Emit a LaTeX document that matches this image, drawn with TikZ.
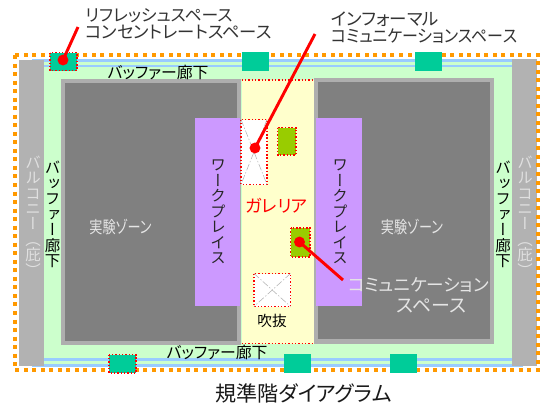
\documentclass[tikz,border=0pt]{standalone}
\usepackage{fontspec}
\setmainfont{Noto Sans CJK JP}[RawFeature=+palt]
\newfontfamily\vfont{Noto Sans CJK JP}[RawFeature=+vert]
\definecolor{orangeb}{HTML}{FF9900}
\definecolor{balc}{HTML}{B2B2B2}
\definecolor{buffer}{HTML}{CCFFCC}
\definecolor{glass}{HTML}{99CCFF}
\definecolor{frameg}{HTML}{AEAEAE}
\definecolor{zone}{HTML}{808080}
\definecolor{yell}{HTML}{FFFFCC}
\definecolor{purp}{HTML}{CC99FF}
\definecolor{teal}{HTML}{00CC99}
\definecolor{lime}{HTML}{99CC00}
\tikzset{
 x=0.75pt,y=-0.75pt,
 fs/.style={font=\fontsize{#1}{#1}\selectfont,inner sep=0pt},
 lab/.style={fs=#1,text=black!80,align=left,anchor=west},
 wlab/.style={fs=#1,text=white!90!black,align=center},
 vlab/.style={font=\vfont\fontsize{11.6}{11.6}\selectfont,inner sep=0pt,align=center},
 hlab/.style={fs=11.9,text=black},
 redbox/.style={draw=red,line width=1.2pt,dash pattern=on 1.1pt off 1.4pt},
 leader/.style={draw=red,line width=2.2pt},
 dot/.style={circle,fill=red,inner sep=0pt,minimum size=8.2pt},
 xline/.style={draw=gray!60,line width=0.4pt,dash pattern=on 5pt off 1.5pt on 1pt off 1.5pt},
}
\begin{document}
\begin{tikzpicture}
\useasboundingbox (0,0) rectangle (540,405);
\fill[white] (0,0) rectangle (540,405);
% buffer and balconies
\fill[buffer] (44,60) rectangle (512,366);
\fill[white] (32,59) rectangle (512,67);
\fill[glass] (32,59) rectangle (512,62);
\fill[glass] (32,64.5) rectangle (512,67);
\fill[buffer] (44,62) rectangle (512,64.5);
\fill[white] (32,358) rectangle (523,367);
\fill[buffer] (44,361) rectangle (512,364);
\fill[glass] (32,358) rectangle (523,361);
\fill[glass] (32,364) rectangle (523,367);
\fill[balc] (19,60) rectangle (44,366);
\fill[balc] (512,59) rectangle (537,366);
% zones
\fill[frameg] (61,78.5) rectangle (241,345);
\fill[zone] (65,82.5) rectangle (237,341);
\fill[frameg] (314,77.5) rectangle (494,344);
\fill[zone] (318,82) rectangle (490,339);
% gallery
\fill[yell] (241.5,80) rectangle (313.5,344);
\draw[redbox] (241.5,80) -- (313.5,80);
\draw[redbox] (241.5,343.5) -- (313.5,343.5);
% workplaces
\fill[purp] (195,118) rectangle (240,306);
\fill[purp] (316,118) rectangle (362,306);
% voids
\filldraw[fill=white,redbox] (241,119.5) rectangle (267,184.5);
\draw[xline] (241,119.5) -- (267,184.5);
\draw[xline] (267,119.5) -- (241,184.5);
\filldraw[fill=white,redbox] (254,273.5) rectangle (290.5,306.5);
\draw[xline] (254,273.5) -- (290.5,306.5);
\draw[xline] (290.5,273.5) -- (254,306.5);
% comm. spaces
\filldraw[fill=lime,redbox] (277.5,127.5) rectangle (296,155);
\filldraw[fill=lime,redbox] (290.5,228) rectangle (310,257);
% orange border
\draw[orangeb,line width=3pt,dash pattern=on 3pt off 3.4pt] (14.5,55) rectangle (538,370);
% teal
\fill[teal] (242,52) rectangle (269,71);
\fill[teal] (415,52) rectangle (442,71);
\fill[teal] (284,354) rectangle (311,373);
\fill[teal] (390,354) rectangle (417,373);
\filldraw[fill=teal,redbox] (50,52.5) rectangle (77,70.5);
\filldraw[fill=teal,redbox] (109,354.5) rectangle (136,373);
% leaders
\node[dot] (d1) at (63,60) {};
\node[dot] (d2) at (255,148) {};
\node[dot] (d3) at (299.5,242) {};
\coordinate (e1) at (78,27);
\coordinate (e2) at (315,34);
\coordinate (e3) at (343,280);
\draw[leader] (e1) -- (d1.center);
\draw[leader] (e2) -- (d2.center);
\draw[leader] (e3) -- (d3.center);
% labels
\node[lab=12.6] (t1) at (85,15.5) {リフレッシュスペース};
\node[lab=13] (t2) at (85,32.5) {コンセントレートスペース};
\node[lab=13.1] (t3) at (331,19) {インフォーマル};
\node[lab=13] (t4) at (331,36) {\scalebox{0.92}[1]{コミュニケーションスペース}};
\node[hlab] (b1) at (158,72.5) {バッファー廊下};
\node[hlab] (b2) at (217,352) {バッファー廊下};
\node[vlab] (b3) at (52.5,214.5) {バ\\ッ\\フ\\ァ\\ー\\廊\\下};
\node[vlab] (b4) at (503,214.5) {バ\\ッ\\フ\\ァ\\ー\\廊\\下};
\node[vlab,text=white!88!black] (k1) at (33,216) {バ\\ル\\コ\\ニ\\ー\\（\\庇\\）};
\node[vlab,text=white!88!black] (k2) at (525,216) {バ\\ル\\コ\\ニ\\ー\\（\\庇\\）};
\node[vlab,text=black!85] (w1) at (218,212) {ワ\\ー\\ク\\プ\\レ\\イ\\ス};
\node[vlab,text=black!85] (w2) at (340,212) {ワ\\ー\\ク\\プ\\レ\\イ\\ス};
\node[wlab=12.6] (z1) at (120.5,227) {\scalebox{0.78}[1]{実験ゾーン}};
\node[wlab=12.6] (z2) at (412,227) {\scalebox{0.78}[1]{実験ゾーン}};
\node[fs=13,text=red] (g) at (276.5,206) {ガレリア};
\node[fs=11,text=black] (f) at (272,321) {吹抜};
\node[wlab=13.2] (c1) at (418.5,285) {コミュニケーション};
\node[wlab=14.2] (c2) at (431.5,306) {スペース};
\node[fs=15.8,text=black!90] (ti) at (303.5,393) {規準階ダイアグラム};
\end{tikzpicture}
\end{document}
